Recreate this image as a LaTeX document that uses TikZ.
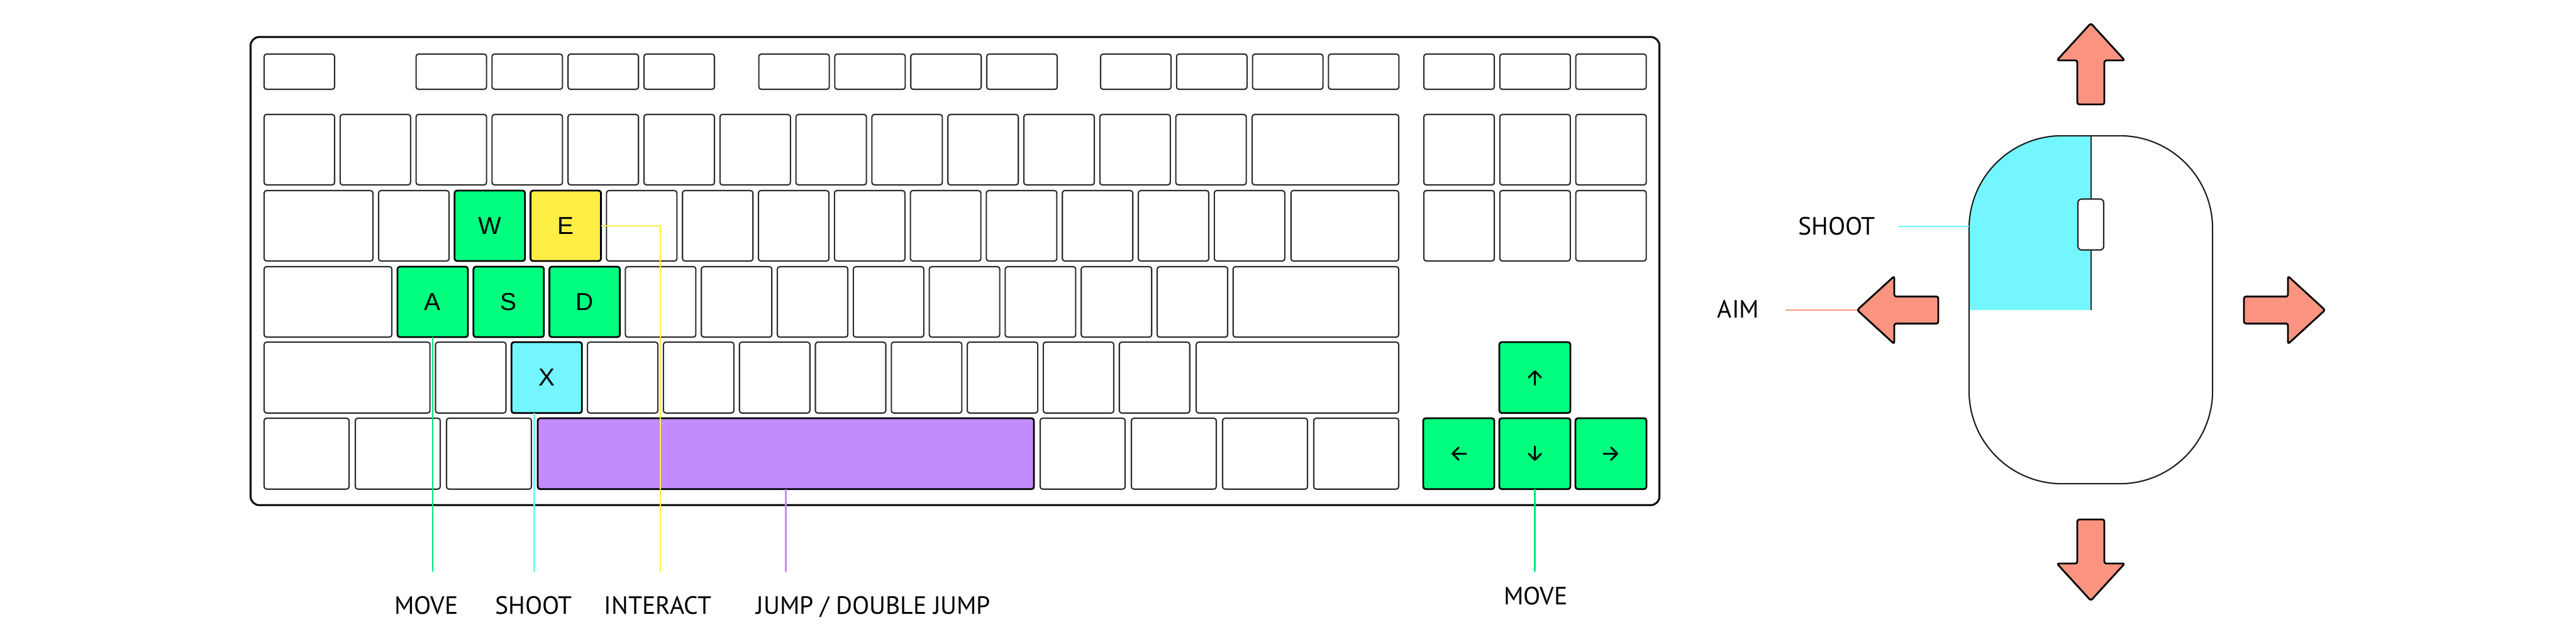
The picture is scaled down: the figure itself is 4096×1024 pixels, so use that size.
\documentclass[tikz,border=0pt]{standalone}
\usepackage{fontspec}
\setmainfont{PT Sans}
\newfontfamily\keyfont{Liberation Sans}
\usetikzlibrary{arrows.meta}
\definecolor{kgreen}{HTML}{00FF7F}
\definecolor{kyellow}{HTML}{FFEE44}
\definecolor{kcyan}{HTML}{73F6FF}
\definecolor{kpurple}{HTML}{C48BFF}
\definecolor{salmon}{HTML}{FA9480}
\definecolor{keyedge}{HTML}{2E2E2E}
\tikzset{
  keybox/.style={draw=keyedge, line width=0.6pt, rounded corners=1.1pt, fill=white,
    inner sep=0pt, outer sep=0pt, font=\keyfont\fontsize{11.1}{13}\selectfont},
  hot/.style={draw=black, line width=0.8pt, fill=#1},
  frame/.style={draw=black, line width=0.85pt, rounded corners=4pt, fill=white, inner sep=0pt, outer sep=0pt},
  mouseshape/.style={draw=black!88, line width=0.6pt, rounded corners=42pt, inner sep=0pt, outer sep=0pt},
  wheel/.style={draw=black!85, line width=0.6pt, rounded corners=1.7pt, fill=white, inner sep=0pt, outer sep=0pt,
    minimum width=0.41cm, minimum height=0.81cm},
  lead/.style={line width=0.75pt, draw=#1},
  glyph/.style={line width=0.85pt, line cap=round, line join=round,
    -{Straight Barb[length=2.8pt, width=5.6pt, line cap=round, line join=round]}},
  bigarrow/.style={draw=black, line width=0.8pt, fill=salmon, rounded corners=0.9pt, line join=round},
  lbl/.style={inner sep=0pt, outer sep=0pt, anchor=base, font=\fontsize{11.3}{13}\selectfont},
}
\newcommand\kbkey[7]{\node[keybox,#6,minimum width={((#4)-(#2))*0.01cm},minimum height={((#5)-(#3))*0.01cm}] (#1) at ({((#2)+(#4))/2},{((#3)+(#5))/2}) {#7};}
\newcommand\fatarrow{(-129,-21.5) -- (-59,-21.5) -- (-59,-54) -- (0,0) -- (-59,54) -- (-59,21.5) -- (-129,21.5) -- cycle}
\begin{document}
\begin{tikzpicture}[x=0.01cm, y=-0.01cm]
\useasboundingbox (0,0) rectangle (4096,1024);
\fill[white] (0,0) rectangle (4096,1024);

% keyboard body
\node[frame, minimum width=22.39cm, minimum height=7.44cm] (keyboard) at (1518.5,431) {};

% row 0
\kbkey{esc}{420}{86}{532}{142}{}{}
\foreach \i in {2,...,5} {\kbkey{fa\i}{420+120.8*\i}{86}{532+120.8*\i}{142}{}{}}
\foreach \j in {0,...,3} {\kbkey{fb\j}{1206.6+120.8*\j}{86}{1318.6+120.8*\j}{142}{}{}}
\foreach \j in {0,...,3} {\kbkey{fc\j}{1750+120.8*\j}{86}{1862+120.8*\j}{142}{}{}}
\foreach \j in {0,...,2} {\kbkey{nva\j}{2264+120.8*\j}{86}{2376+120.8*\j}{142}{}{}}

% row 1
\foreach \i in {0,...,12} {\kbkey{ra\i}{420+120.8*\i}{182}{532+120.8*\i}{294}{}{}}
\kbkey{bksp}{1991}{182}{2224}{294}{}{}
\foreach \j in {0,...,2} {\kbkey{nvb\j}{2264+120.8*\j}{182}{2376+120.8*\j}{294}{}{}}

% row 2
\kbkey{tab}{420}{303}{593}{415}{}{}
\foreach \i in {0,3,4,...,11} {\kbkey{rb\i}{602+120.8*\i}{303}{714+120.8*\i}{415}{}{}}
\kbkey{kW}{722.8}{303}{834.8}{415}{hot=kgreen}{W}
\kbkey{kE}{843.6}{303}{955.6}{415}{hot=kyellow}{E}
\kbkey{bsl}{2052.7}{303}{2224}{415}{}{}
\foreach \j in {0,...,2} {\kbkey{nvc\j}{2264+120.8*\j}{303}{2376+120.8*\j}{415}{}{}}

% row 3
\kbkey{caps}{420}{424}{623}{536}{}{}
\foreach \i in {3,...,10} {\kbkey{rc\i}{632+120.8*\i}{424}{744+120.8*\i}{536}{}{}}
\kbkey{kA}{632}{424}{744}{536}{hot=kgreen}{A}
\kbkey{kS}{752.8}{424}{864.8}{536}{hot=kgreen}{S}
\kbkey{kD}{873.6}{424}{985.6}{536}{hot=kgreen}{D}
\kbkey{enter}{1960.7}{424}{2224}{536}{}{}

% row 4
\kbkey{lshift}{420}{544}{683.6}{656.7}{}{}
\foreach \i in {0,2,3,...,9} {\kbkey{rd\i}{692.5+120.8*\i}{544}{804.5+120.8*\i}{656.7}{}{}}
\kbkey{kX}{813.3}{544}{925.3}{656.7}{hot=kcyan}{X}
\kbkey{rshift}{1902}{544}{2224}{656.7}{}{}
\kbkey{kUp}{2384}{544}{2497}{656.7}{hot=kgreen}{}

% row 5
\kbkey{lctrl}{420}{665}{555}{777.7}{}{}
\kbkey{lwin}{565}{665}{700}{777.7}{}{}
\kbkey{lalt}{710}{665}{845}{777.7}{}{}
\kbkey{kSpace}{855}{665}{1644}{777.7}{hot=kpurple}{}
\kbkey{ralt}{1654}{665}{1789}{777.7}{}{}
\kbkey{fn}{1799}{665}{1934}{777.7}{}{}
\kbkey{menu}{1944}{665}{2079}{777.7}{}{}
\kbkey{rctrl}{2089}{665}{2224}{777.7}{}{}
\kbkey{kLeft}{2263}{665}{2376}{777.7}{hot=kgreen}{}
\kbkey{kDown}{2384}{665}{2497}{777.7}{hot=kgreen}{}
\kbkey{kRight}{2505}{665}{2618}{777.7}{hot=kgreen}{}

% arrow glyphs
\draw[glyph] (kUp.center) ++(0,11.5) -- ++(0,-23);
\draw[glyph] (kDown.center) ++(0,-11.5) -- ++(0,23);
\draw[glyph] (kLeft.center) ++(11.5,0) -- ++(-23,0);
\draw[glyph] (kRight.center) ++(-11.5,0) -- ++(23,0);

% leader end points
\coordinate (moveL) at (688,908.7);
\coordinate (shootL) at (849.6,908.7);
\coordinate (interL) at (1050,908.7);
\coordinate (jumpL) at (1249.5,908.7);
\coordinate (moveR) at (2440.5,908.7);

% leaders
\draw[lead=kgreen!92!black] (kA.south) -- (moveL);
\draw[lead=kcyan] (kX.south -| shootL) -- (shootL);
\draw[lead=kyellow] (kE.east) -- (kE.east -| interL) -- (interL);
\draw[lead=kpurple] (kSpace.south) -- (jumpL);
\draw[lead=kgreen!92!black] (kDown.south) -- (moveR);

% bottom labels
\node[lbl] (tMoveL) at (678,976) {MOVE};
\node[lbl] (tShootL) at (848.6,976) {SHOOT};
\node[lbl] (tInter) at (1046,976) {INTERACT};
\node[lbl] (tJump) at (1389,976) {JUMP / DOUBLE JUMP};
\node[lbl] (tMoveR) at (2442,961) {MOVE};

% mouse
\begin{scope}
  \clip[rounded corners=42pt] (3131,216) rectangle (3518,769);
  \fill[kcyan] (3131,216) rectangle (3325,492.7);
\end{scope}
\node[mouseshape, minimum width=3.87cm, minimum height=5.53cm] (mouse) at (3324.5,492.5) {};
\coordinate (splitTop) at (3325,216);
\coordinate (splitBot) at (3325,492.7);
\draw[draw=black!85, line width=0.6pt] (splitTop) -- (splitBot);
\node[wheel] (wheel) at (3324.5,357) {};

% salmon arrows
\begin{scope}[shift={(3324.5,37)}, rotate=90] \draw[bigarrow] \fatarrow; \end{scope}
\begin{scope}[shift={(3324.5,955)}, rotate=-90] \draw[bigarrow] \fatarrow; \end{scope}
\begin{scope}[shift={(2953,493)}, rotate=180] \draw[bigarrow] \fatarrow; \end{scope}
\begin{scope}[shift={(3697,493)}] \draw[bigarrow] \fatarrow; \end{scope}
\coordinate (aimTip) at (2953,493);

% mouse labels
\node[lbl] (tShootM) at (2920.5,373.3) {SHOOT};
\node[lbl] (tAim) at (2764,505) {AIM};
\coordinate (shootM) at (3018,360);
\coordinate (aimM) at (2839,493);
\draw[lead=kcyan] (shootM) -- (shootM -| mouse.west);
\draw[lead=salmon] (aimM) -- (aimTip);
\end{tikzpicture}
\end{document}
